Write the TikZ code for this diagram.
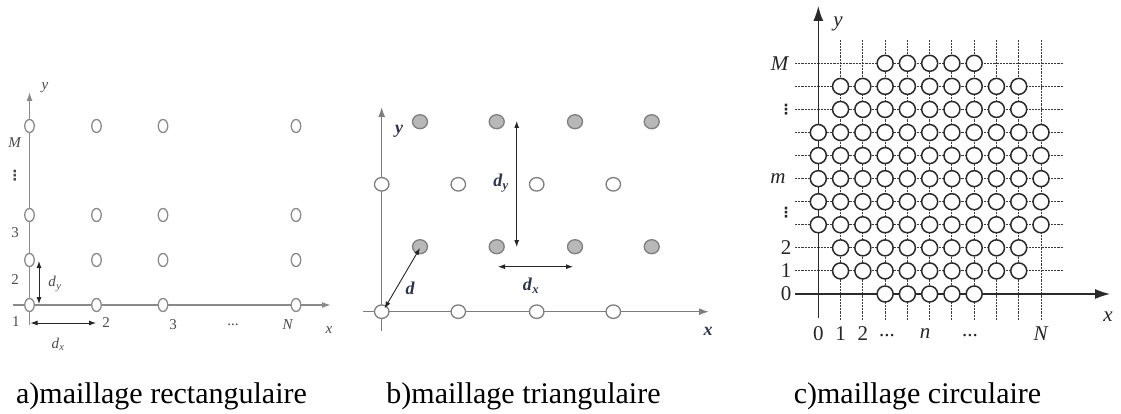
\documentclass[tikz,border=0pt]{standalone}
\usepackage{fontspec}
\setmainfont{Liberation Serif}
\newfontfamily\dejavu{DejaVu Sans}
\usetikzlibrary{arrows.meta,shapes.geometric}
\definecolor{agray}{HTML}{8A8A8A}
\definecolor{alab}{HTML}{4A4A4A}
\definecolor{bgray}{HTML}{7E7E7E}
\definecolor{bfill}{HTML}{B8B8B8}
\definecolor{blab}{HTML}{2E3448}
\definecolor{cdark}{HTML}{2A2A2A}
\definecolor{cdash}{HTML}{3A3A3A}
\newcommand{\dsb}[2]{\textit{#1}\kern0.3pt\textsubscript{\textit{#2}}}
\begin{document}
\begin{tikzpicture}[x=1pt,y=-1pt,
  acirc/.style={ellipse,draw=agray,line width=1.3pt,fill=white,minimum width=9.5pt,minimum height=13pt,inner sep=0pt},
  bwhite/.style={ellipse,draw=bgray,line width=1.3pt,fill=white,minimum width=14.5pt,minimum height=13.5pt,inner sep=0pt},
  bgrayc/.style={ellipse,draw=bgray,line width=1.3pt,fill=bfill,minimum width=15pt,minimum height=14pt,inner sep=0pt},
  ccirc/.style={circle,draw=cdark,line width=1.5pt,fill=white,minimum size=16pt,inner sep=0pt},
  aaxis/.style={draw=agray,line width=1.5pt,-{Latex[length=9pt,width=6pt]}},
  baxis/.style={draw=bgray,line width=1.5pt,-{Latex[length=10pt,width=7pt]}},
  caxis/.style={draw=cdark,line width=1.3pt,-{Latex[length=15pt,width=10pt]}},
  darr/.style={draw=black!85,line width=0.9pt,{Latex[length=7pt,width=5pt]}-{Latex[length=7pt,width=5pt]}},
  cdashed/.style={draw=cdash,line width=0.9pt,dash pattern=on 2.2pt off 1pt},
  alabel/.style={text=alab,font=\fontsize{15}{15}\selectfont,inner sep=0pt},
  blabel/.style={text=blab,font=\fontsize{18}{18}\selectfont\bfseries\itshape,inner sep=0pt},
  clabel/.style={text=black!85,font=\fontsize{21}{21}\selectfont,inner sep=0pt},
  vdlabel/.style={font=\fontsize{14}{14}\selectfont\dejavu\bfseries,inner sep=0pt},
  caption/.style={font=\fontsize{30}{30}\selectfont,anchor=base,inner sep=0pt}
]
\useasboundingbox[fill=white] (0,0) rectangle (1121,414);

% ================= panel a =================
\coordinate (ayb) at (29.5,325);
\coordinate (ayt) at (29.5,92);
\coordinate (axl) at (13,305);
\coordinate (axr) at (331,305);
\draw[aaxis] (ayb) -- (ayt);
\draw[aaxis] (axl) -- (axr);
\foreach \c/\x in {1/29.5,2/96.5,3/163,4/296}
  \foreach \r/\y in {1/305,2/260,3/215,4/126}
    \node[acirc] (a-\c-\r) at (\x,\y) {};
\coordinate (adyt) at (39,261);
\coordinate (adyb) at (39,304);
\draw[darr] (adyt) -- (adyb);
\coordinate (adxl) at (30.5,323);
\coordinate (adxr) at (96,323);
\draw[darr] (adxl) -- (adxr);
\node[alabel] (ady) at (55,284) {\dsb{d}{y}};
\node[alabel] (adx) at (58,344) {\dsb{d}{x}};
\node[alabel] (ay) at (45,88) {\textit{y}};
\node[alabel] (aM) at (15,143) {\textit{M}};
\node[alabel,vdlabel] (avd) at (15,176) {⋮};
\node[alabel] (a3) at (15,233) {3};
\node[alabel] (a2) at (15,280) {2};
\node[alabel] (a1) at (16,322) {1};
\node[alabel] (ax2) at (106,323) {2};
\node[alabel] (ax3) at (173,325) {3};
\node[alabel] (axd) at (233,325) {...};
\node[alabel] (aN) at (288,325) {\textit{N}};
\node[alabel] (ax) at (329,330) {\textit{x}};

% ================= panel b =================
\coordinate (byb) at (381.7,331);
\coordinate (byt) at (381.7,107);
\coordinate (bxl) at (363,311.7);
\coordinate (bxr) at (709,311.7);
\draw[baxis] (byb) -- (byt);
\draw[baxis] (bxl) -- (bxr);
\foreach \c/\x in {1/381.7,2/458.3,3/536.7,4/613.3}
  \foreach \r/\y in {1/311.7,2/184.3}
    \node[bwhite] (bw-\c-\r) at (\x,\y) {};
\foreach \c/\x in {1/420,2/496.7,3/575,4/651.7}
  \foreach \r/\y in {1/246.7,2/121.7}
    \node[bgrayc] (bg-\c-\r) at (\x,\y) {};
\coordinate (bdyt) at (516.7,121);
\coordinate (bdyb) at (516.7,247);
\draw[darr] (bdyt) -- (bdyb);
\coordinate (bdxl) at (498,266.7);
\coordinate (bdxr) at (573,266.7);
\draw[darr] (bdxl) -- (bdxr);
\coordinate (bda) at (384.5,308.5);
\coordinate (bdb) at (420,248);
\draw[darr] (bda) -- (bdb);
\node[blabel] (by) at (399,131) {y};
\node[blabel] (bdy) at (501,183) {d\kern0.3pt\textsubscript{y}};
\node[blabel] (bdx) at (531,286) {d\kern0.3pt\textsubscript{x}};
\node[blabel] (bd) at (410,288) {d};
\node[blabel] (bx) at (708,331) {x};

% ================= panel c =================
\foreach \j in {1,...,10}
  \draw[cdashed] (795,{294-23.07*\j}) -- (1063,{294-23.07*\j});
\foreach \i in {1,...,10}
  \draw[cdashed] ({818.3+22.27*\i},320) -- ({818.3+22.27*\i},40);
\coordinate (cyb) at (818.3,318);
\coordinate (cyt) at (818.3,6);
\coordinate (cxl) at (795,294);
\coordinate (cxr) at (1110,294);
\draw[caxis] (cyb) -- (cyt);
\draw[caxis] (cxl) -- (cxr);
\foreach \j/\a/\b in {0/3/7,1/1/9,2/1/9,3/0/10,4/0/10,5/0/10,6/0/10,7/0/10,8/1/9,9/1/9,10/3/7}
  \foreach \i in {\a,...,\b}
    \node[ccirc] (c-\i-\j) at ({818.3+22.27*\i},{294-23.07*\j}) {};
\node[clabel] (cM) at (780,63.3) {\textit{M}};
\node[clabel,vdlabel] (cvd1) at (786,110) {⋮};
\node[clabel] (cm) at (778,178.3) {\textit{m}};
\node[clabel,vdlabel] (cvd2) at (786,213) {⋮};
\node[clabel] (c2) at (786,247.3) {2};
\node[clabel] (c1) at (786,270.7) {1};
\node[clabel] (c0) at (786,294) {0};
\node[clabel] (cb0) at (818.3,334) {0};
\node[clabel] (cb1) at (840.6,334) {1};
\node[clabel] (cb2) at (862.8,334) {2};
\node[clabel] (cbd1) at (887,336) {...};
\node[clabel] (cbn) at (925,334) {\textit{n}};
\node[clabel] (cbd2) at (970,336) {...};
\node[clabel] (cbN) at (1041,334) {\textit{N}};
\node[clabel] (cx) at (1108,317) {\textit{x}};
\node[clabel] (cy) at (838,24) {\textit{y}};

% ================= captions =================
\node[caption] (capa) at (161.5,403) {a)maillage rectangulaire};
\node[caption] (capb) at (523.5,403) {b)maillage triangulaire};
\node[caption] (capc) at (917.5,403) {c)maillage circulaire};
\end{tikzpicture}
\end{document}
